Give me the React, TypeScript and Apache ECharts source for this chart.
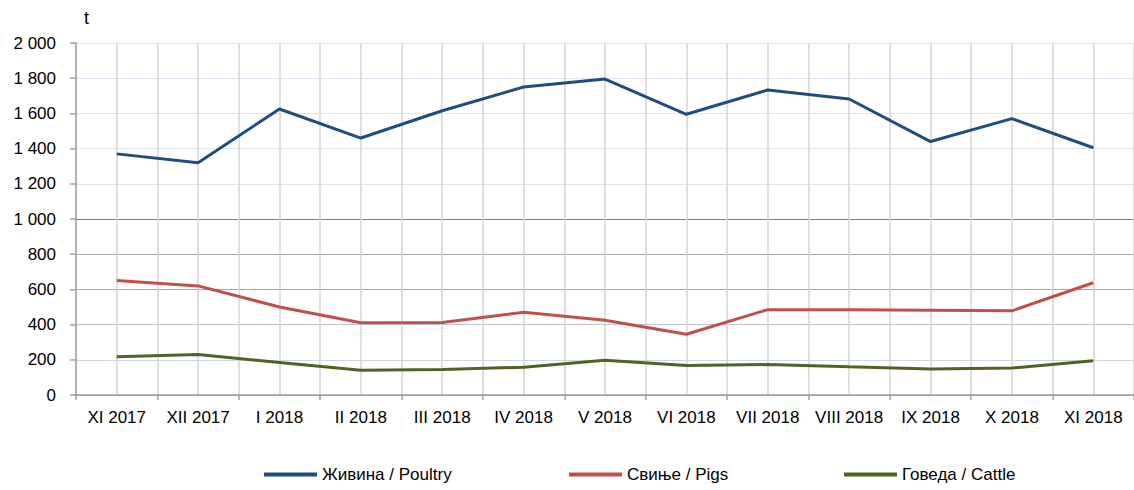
import React, { useEffect, useRef } from "react";
import * as echarts from "echarts";

const categories = [
  "XI 2017", "XII 2017", "I 2018", "II 2018", "III 2018", "IV 2018", "V 2018",
  "VI 2018", "VII 2018", "VIII 2018", "IX 2018", "X 2018", "XI 2018",
];
const poultry = [1370, 1320, 1625, 1460, 1615, 1750, 1795, 1595, 1733, 1682, 1440, 1570, 1405];
const pigs = [650, 620, 500, 410, 412, 470, 425, 345, 485, 485, 482, 478, 638];
const cattle = [218, 230, 185, 140, 145, 158, 197, 167, 173, 160, 148, 153, 195];
const seriesNames = ["Живина / Poultry", "Свиње / Pigs", "Говеда / Cattle"];
const colors = ["#1F4E7E", "#C0504D", "#4F6228"];
const yMin = 0;
const yMax = 2000;
const yStep = 200;

const FONT = "'Liberation Sans', Arial, sans-serif";
const FS = 17;

export default function App() {
  const ref = useRef<HTMLDivElement>(null);
  useEffect(() => {
    if (!ref.current) return;
    const chart = echarts.init(ref.current, null, { renderer: "svg" });
    const fmt = (v: number) =>
      v >= 1000 ? `${Math.floor(v / 1000)} ${String(v % 1000).padStart(3, "0")}` : String(v);
    const gridColors = [
      "#a0a0a0", "#cdd7e6", "#bcc4d0", "#a8a8a8", "#a8a8a8", "#7f7f7f",
      "#dce6f2", "#dce6f2", "#dce6f2", "#dce6f2", "#dce6f2",
    ];
    const legendLefts = [264, 569, 844];
    chart.setOption({
      animation: false,
      textStyle: { fontFamily: FONT },
      grid: { left: 76, top: 43, width: 1063, height: 352, containLabel: false },
      legend: seriesNames.map((n, i) => ({
        data: [n],
        left: legendLefts[i],
        top: 466,
        padding: 0,
        icon: "rect",
        itemWidth: 53,
        itemHeight: 4,
        textStyle: { fontFamily: FONT, fontSize: FS, color: "#000" },
      })),
      graphic: [
        {
          type: "text",
          left: 84,
          top: 9,
          style: { text: "t", fontFamily: FONT, fontSize: 18, fill: "#000" },
        },
      ],
      xAxis: [
        {
          type: "category",
          data: categories,
          boundaryGap: true,
          axisLine: { lineStyle: { color: "#a0a0a0", width: 1.5 } },
          axisTick: { show: true, length: 5, lineStyle: { color: "#a0a0a0", width: 1.5 } },
          axisLabel: { color: "#000", fontSize: FS, margin: 14, fontFamily: FONT, interval: 0 },
          splitLine: { show: false },
        },
        {
          type: "value",
          min: -0.5,
          max: 12.5,
          interval: 0.5,
          position: "top",
          axisLine: { show: false },
          axisTick: { show: false },
          axisLabel: { show: false },
          splitLine: { show: true, lineStyle: { color: "#d4d4d4", width: 1.5 } },
        },
      ],
      yAxis: {
        type: "value",
        min: yMin,
        max: yMax,
        interval: yStep,
        axisLine: { show: true, onZero: false, lineStyle: { color: "#a0a0a0", width: 1.5 } },
        axisTick: { show: true, length: 6, lineStyle: { color: "#a0a0a0", width: 1.5 } },
        axisLabel: { color: "#000", fontSize: FS, margin: 20, fontFamily: FONT, formatter: fmt },
        splitLine: { show: true, lineStyle: { color: gridColors, width: 1.2 } },
      },
      series: [poultry, pigs, cattle].map((d, i) => ({
        name: seriesNames[i],
        type: "line",
        data: d,
        xAxisIndex: 0,
        symbol: "none",
        lineStyle: { color: colors[i], width: 3 },
        itemStyle: { color: colors[i] },
      })),
    });
    return () => chart.dispose();
  }, []);
  return (
    <div
      ref={ref}
      style={{ position: "absolute", left: 0, top: 0, width: 1134, height: 490, background: "#fff" }}
    />
  );
}
